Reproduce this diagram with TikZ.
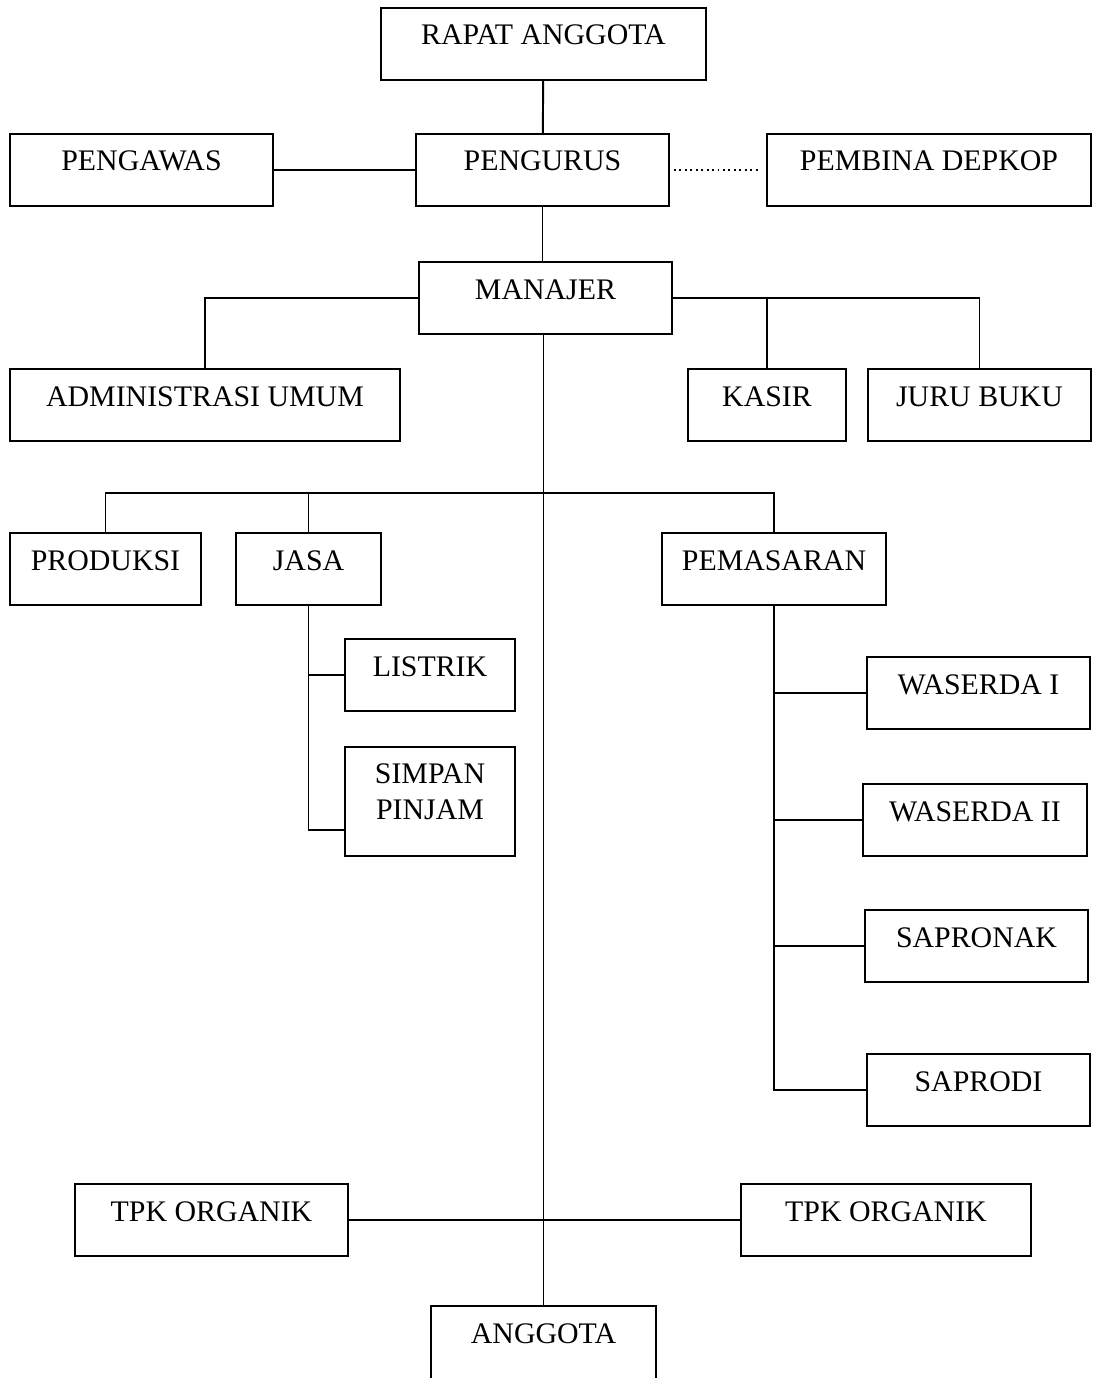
\documentclass[tikz,border=0pt]{standalone}
\usepackage{fontspec}
\setmainfont{Liberation Serif}
\usepackage{tikz}
\usetikzlibrary{shapes,arrows}

\begin{document}
\begin{tikzpicture}[x=0.02cm,y=-0.02cm,
        kotak/.style={rectangle,draw,line width=1.1pt,inner sep=0pt,
            text height=0.74cm,text depth=0.70cm,font=\fontsize{17}{20}\selectfont},
        garis/.style={line width=1.1pt}]
        \useasboundingbox (0,0) rectangle (1092,1378);
        % pimpinan koperasi
        \node[kotak,minimum width=6.5cm] (rapat) at (543.5,44) {RAPAT ANGGOTA};
        \node[kotak,minimum width=5.26cm] (pengawas) at (141.5,170) {PENGAWAS};
        \node[kotak,minimum width=5.06cm] (pengurus) at (542.5,170) {PENGURUS};
        \node[kotak,minimum width=6.48cm] (pembina) at (929,170) {PEMBINA DEPKOP};
        \node[kotak,minimum width=5.06cm] (manajer) at (545.5,298) {MANAJER};
        
        % staf manajer
        \node[kotak,minimum width=7.8cm] (admin) at (205,405) {ADMINISTRASI UMUM};
        \node[kotak,minimum width=3.16cm] (kasir) at (767,405) {KASIR};
        \node[kotak,minimum width=4.46cm] (jurubuku) at (979.5,405) {JURU BUKU};
        
        % unit usaha
        \node[kotak,minimum width=3.82cm] (produksi) at (105.5,569) {PRODUKSI};
        \node[kotak,minimum width=2.9cm] (jasa) at (308.5,569) {JASA};
        \node[kotak,minimum width=4.48cm] (pemasaran) at (774,569) {PEMASARAN};
        \node[kotak,minimum width=3.4cm] (listrik) at (430,675) {LISTRIK};
        \node[kotak,minimum width=3.4cm,align=center,text height=1.44cm,text depth=0.74cm] (simpan) at (430,801.5) {SIMPAN\\PINJAM};
        \node[kotak,minimum width=4.46cm] (waserda1) at (978.5,693) {WASERDA I};
        \node[kotak,minimum width=4.48cm] (waserda2) at (975,820) {WASERDA II};
        \node[kotak,minimum width=4.46cm] (sapronak) at (976.5,946) {SAPRONAK};
        \node[kotak,minimum width=4.46cm] (saprodi) at (978.5,1090) {SAPRODI};
        
        % bawah
        \node[kotak,minimum width=5.46cm] (tpkkiri) at (211.5,1220) {TPK ORGANIK};
        \node[kotak,minimum width=5.8cm] (tpkkanan) at (886,1220) {TPK ORGANIK};
        \node[kotak,minimum width=4.5cm,text depth=1.2cm] (anggota) at (543.5,1354.5) {ANGGOTA};
        
        % garis hubungan
        \draw[garis] (rapat) -- (pengurus);
        \draw[garis] (pengawas) -- (pengurus);
        \draw[garis,dotted,line width=0.8pt,shorten <=0.08cm,shorten >=0.14cm] (pengurus) -- (pembina);
        \draw[garis] (pengurus.south) -- (pengurus.south |- manajer.north);
        \draw[garis] (manajer.west) -| (admin.north);
        \draw[garis] (manajer.east) -| (jurubuku.north);
        \draw[garis] (kasir.north) |- (manajer.east);
        \draw[garis] (anggota.north |- manajer.south) -- (anggota.north);
        
        \coordinate (cabang) at (543.5,493);
        \draw[garis] (produksi.north) |- (cabang) -| (pemasaran.north);
        \draw[garis] (jasa.north) -- (jasa.north |- cabang);
        \draw[garis] (jasa.south) |- (listrik.west);
        \draw[garis] (jasa.south) |- ([yshift=-0.57cm]simpan.west);
        
        \draw[garis] (pemasaran.south) |- (saprodi.west);
        \draw[garis] (pemasaran.south |- waserda1.west) -- (waserda1.west);
        \draw[garis] (pemasaran.south |- waserda2.west) -- (waserda2.west);
        \draw[garis] (pemasaran.south |- sapronak.west) -- (sapronak.west);
        
        \draw[garis] (tpkkiri) -- (tpkkanan);
    \end{tikzpicture}
\end{document}
